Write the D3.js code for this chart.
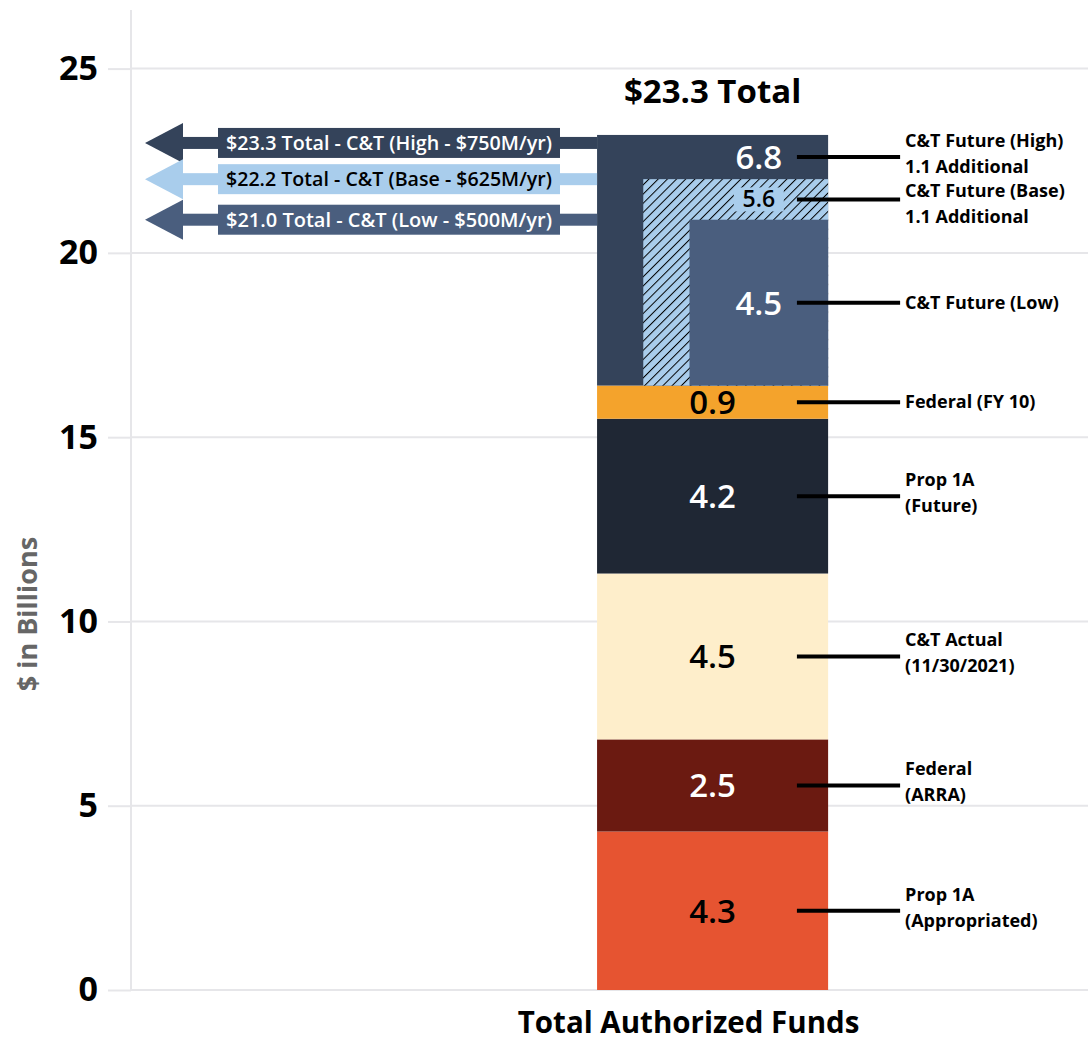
<!DOCTYPE html>
<html>
<head>
<meta charset="utf-8">
<script src="https://cdn.jsdelivr.net/npm/d3@7"></script>
<style>
  html, body { margin: 0; padding: 0; background: #fff; }
  svg { display: block; font-family: "Open Sans", "Noto Sans", sans-serif; }
</style>
</head>
<body>
<svg id="chart" width="1088" height="1043"></svg>
<script>
// stacked funding (bottom to top), $ billions
const segmentNames = ["Prop 1A (Appropriated)", "Federal (ARRA)", "C&T Actual", "Prop 1A (Future)", "Federal (FY 10)"];
const segmentValues = [4.3, 2.5, 4.5, 4.2, 0.9];
const segmentLabels = [["Prop 1A", "(Appropriated)"], ["Federal", "(ARRA)"], ["C&T Actual", "(11/30/2021)"], ["Prop 1A", "(Future)"], ["Federal (FY 10)"]];

// cap-and-trade future scenarios, drawn on top of the stack
const scenarioNames = ["High", "Base", "Low"];
const scenarioValues = [6.8, 5.6, 4.5];
const scenarioTotals = [23.3, 22.2, 21.0];
const scenarioRates = ["$750M/yr", "$625M/yr", "$500M/yr"];
const scenarioLabels = [["C&T Future (High)", "1.1 Additional"], ["C&T Future (Base)", "1.1 Additional"], ["C&T Future (Low)"]];

const yTicks = [0, 5, 10, 15, 20, 25];
const category = "Total Authorized Funds";
const totalLabel = "$23.3 Total";

const segmentColors = d3.scaleOrdinal().domain(segmentNames)
  .range(["#e65431", "#6b1a11", "#feeecb", "#1f2734", "#f4a32c"]);
const scenarioColors = d3.scaleOrdinal().domain(scenarioNames)
  .range(["#34435a", "#a9cdec", "#4a5e7e"]);

const W = 1088, H = 1043;
const plotLeft = 131, plotRight = W, plotBottom = 990, plotTop = 68.6;

const svg = d3.select("#chart");

const y = d3.scaleLinear().domain([0, 25]).range([plotBottom, plotTop]);
const x = d3.scaleBand().domain([category]).range([plotLeft, plotRight])
  .paddingInner(0).paddingOuter(1.571).align(0.642);
const x0 = x(category), bw = x.bandwidth(), xMid = x0 + bw / 2;

const textOn = c => d3.hsl(c).l > 0.5 ? "#000" : "#fff";

// hatch for the base scenario
const defs = svg.append("defs");
const pat = defs.append("pattern").attr("id", "hatch")
  .attr("patternUnits", "userSpaceOnUse").attr("width", 6.5).attr("height", 6.5)
  .attr("patternTransform", "rotate(45)");
pat.append("rect").attr("width", 6.5).attr("height", 6.5).attr("fill", scenarioColors("Base"));
pat.append("line").attr("x1", 0).attr("y1", 0).attr("x2", 0).attr("y2", 6.5)
  .attr("stroke", "#000").attr("stroke-width", 2);

// grid + axis
svg.append("g").selectAll("line").data(yTicks).join("line")
  .attr("x1", plotLeft).attr("x2", plotRight)
  .attr("y1", d => y(d)).attr("y2", d => y(d))
  .attr("stroke", "#e6e6e9").attr("stroke-width", 2);
svg.append("line").attr("x1", plotLeft).attr("x2", plotLeft)
  .attr("y1", 10).attr("y2", plotBottom)
  .attr("stroke", "#e6e6e9").attr("stroke-width", 2);

const axis = svg.append("g").attr("transform", `translate(${plotLeft},0)`)
  .call(d3.axisLeft(y).tickValues(yTicks).tickSize(23).tickPadding(10));
axis.select(".domain").remove();
axis.selectAll(".tick line").attr("stroke", "#e6e6e9").attr("stroke-width", 2);
axis.selectAll(".tick text")
  .attr("font-family", "'Open Sans', sans-serif")
  .attr("font-size", 34).attr("font-weight", 700).attr("fill", "#000");

svg.append("text")
  .attr("transform", `translate(37,${y(10.2)}) rotate(-90)`)
  .attr("text-anchor", "middle")
  .attr("font-size", 27).attr("font-weight", 700).attr("fill", "#666")
  .text("$ in Billions");

// stacked segments
let acc = 0;
const segs = segmentValues.map((v, i) => {
  const s = { name: segmentNames[i], v, y0: acc, y1: acc + v, label: segmentLabels[i] };
  acc += v;
  return s;
});
const base = acc;

const scen = scenarioValues.map((v, i) => ({
  name: scenarioNames[i], v, y0: base, y1: base + v, total: scenarioTotals[i],
  rate: scenarioRates[i], label: scenarioLabels[i], inset: bw * 0.2 * i,
}));

svg.append("g").selectAll("rect").data(segs).join("rect")
  .attr("x", x0).attr("width", bw)
  .attr("y", d => y(d.y1)).attr("height", d => y(d.y0) - y(d.y1))
  .attr("fill", d => segmentColors(d.name));

svg.append("g").selectAll("rect").data(scen).join("rect")
  .attr("x", d => x0 + d.inset).attr("width", d => bw - d.inset)
  .attr("y", d => y(d.y1)).attr("height", d => y(d.y0) - y(d.y1))
  .attr("fill", d => d.name === "Base" ? "url(#hatch)" : scenarioColors(d.name));

const lowInner = x0 + scen[2].inset;
const lowCenter = lowInner + (x0 + bw - lowInner) / 2;

// arrows to the left
const shaftH = 12, headBase = 183, headTip = 145, headHalf = 20;
const boxX0 = 218, boxX1 = 560, boxH = 30;
const arrowY = scen.map((d, i) => i === 0 ? y(d.y1) + shaftH / 2 + 2 : y(d.y1));

const arrows = svg.append("g").selectAll("g").data(scen).join("g");
arrows.append("rect")
  .attr("x", headBase - 1).attr("width", d => x0 - headBase + 1)
  .attr("y", (d, i) => arrowY[i] - shaftH / 2).attr("height", shaftH)
  .attr("fill", d => scenarioColors(d.name));
arrows.append("path")
  .attr("d", (d, i) => `M${headTip},${arrowY[i]} L${headBase},${arrowY[i] - headHalf} L${headBase},${arrowY[i] + headHalf} Z`)
  .attr("fill", d => scenarioColors(d.name));
arrows.append("rect")
  .attr("x", boxX0).attr("width", boxX1 - boxX0)
  .attr("y", (d, i) => arrowY[i] - boxH / 2).attr("height", boxH)
  .attr("fill", d => scenarioColors(d.name));
arrows.append("text")
  .attr("x", (boxX0 + boxX1) / 2).attr("y", (d, i) => arrowY[i] + 7)
  .attr("text-anchor", "middle")
  .attr("font-size", 19.5).attr("font-weight", 600)
  .attr("textLength", 326).attr("lengthAdjust", "spacingAndGlyphs")
  .attr("fill", d => textOn(scenarioColors(d.name)))
  .text(d => `$${d.total.toFixed(1)} Total - C&T (${d.name} - ${d.rate})`);

// value labels
svg.append("g").selectAll("text").data(segs).join("text")
  .attr("x", xMid).attr("y", d => y((d.y0 + d.y1) / 2) + 12)
  .attr("text-anchor", "middle")
  .attr("font-size", 33).attr("font-weight", 600)
  .attr("fill", d => textOn(segmentColors(d.name)))
  .text(d => d.v.toFixed(1));

const scenMid = scen.map((d, i) => {
  const lower = i < scen.length - 1 ? scen[i + 1].y1 : d.y0;
  return (d.y1 + lower) / 2;
});

// plain patch behind the hatched value
const baseIdx = scenarioNames.indexOf("Base");
svg.append("rect")
  .attr("x", lowCenter - 25).attr("width", 50)
  .attr("y", y(scenMid[baseIdx]) - 12).attr("height", 24)
  .attr("fill", scenarioColors("Base"));

svg.append("g").selectAll("text").data(scen).join("text")
  .attr("x", lowCenter)
  .attr("y", (d, i) => y(scenMid[i]) + (d.name === "Base" ? 8 : 12))
  .attr("text-anchor", "middle")
  .attr("font-size", d => d.name === "Base" ? 23 : 33).attr("font-weight", 600)
  .attr("fill", d => textOn(scenarioColors(d.name)))
  .text(d => d.v.toFixed(1));

// leader lines + right labels
const leadX1 = x0 + bw * 0.865, leadX2 = x0 + bw + 72;
const leaders = segs.map(d => ({ yv: (d.y0 + d.y1) / 2, label: d.label }))
  .concat(scen.map((d, i) => ({ yv: scenMid[i], label: d.label })));

// text line positions, pushed down where two labels would collide
const lineGap = 26, minGap = 24;
const placed = leaders.map(d => ({ ...d, py: y(d.yv) }))
  .sort((a, b) => a.py - b.py);
let lastY = -Infinity;
placed.forEach(d => {
  const n = d.label.length;
  let first = n === 1 ? d.py + 6 : d.py + 6 - 16;
  if (first < lastY + minGap) first = lastY + minGap;
  d.lines = d.label.map((t, j) => ({ t, ty: first + j * lineGap }));
  lastY = first + (n - 1) * lineGap;
});

const lead = svg.append("g").selectAll("g").data(placed).join("g");
lead.append("line")
  .attr("x1", leadX1).attr("x2", leadX2)
  .attr("y1", d => d.py).attr("y2", d => d.py)
  .attr("stroke", "#000").attr("stroke-width", 4);
lead.append("text")
  .attr("font-size", 18).attr("font-weight", 700).attr("fill", "#000")
  .selectAll("tspan").data(d => d.lines).join("tspan")
  .attr("x", leadX2 + 5)
  .attr("y", d => d.ty)
  .text(d => d.t);

// titles
svg.append("text")
  .attr("x", xMid).attr("y", 103)
  .attr("text-anchor", "middle")
  .attr("font-size", 33).attr("font-weight", 700).attr("fill", "#000")
  .text(totalLabel);

svg.append("text")
  .attr("x", xMid - 24).attr("y", 1033)
  .attr("text-anchor", "middle")
  .attr("font-size", 29.5).attr("font-weight", 700).attr("fill", "#000")
  .text(category);
</script>
</body>
</html>
